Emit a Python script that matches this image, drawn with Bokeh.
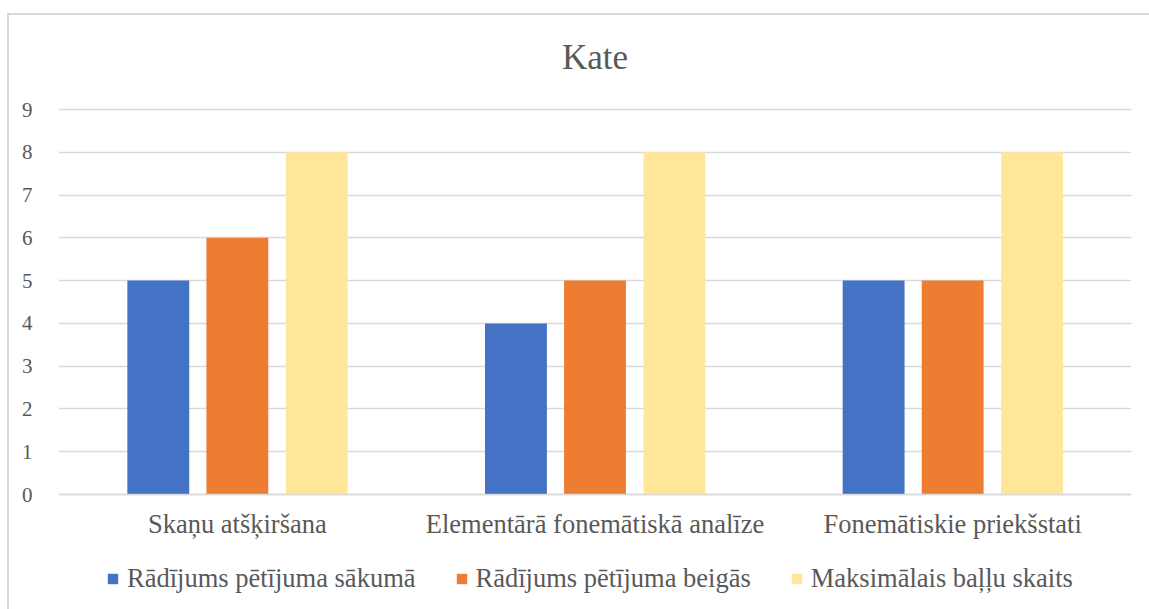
from bokeh.plotting import figure
from bokeh.models import ColumnDataSource, Legend, LegendItem, FactorRange, Range1d, Label
from bokeh.transform import dodge
from bokeh.embed import file_html
from bokeh.resources import INLINE

categories = ["Skaņu atšķiršana", "Elementārā fonemātiskā analīze", "Fonemātiskie priekšstati"]
series_names = ["Rādījums pētījuma sākumā", "Rādījums pētījuma beigās", "Maksimālais baļļu skaits"]
start_vals = [5, 4, 5]
end_vals = [6, 5, 5]
max_vals = [8, 8, 8]
y_ticks = [0, 1, 2, 3, 4, 5, 6, 7, 8, 9]
title_text = "Kate"

colors = ["#4472C4", "#ED7D31", "#FFE699"]
FONT = "Liberation Serif"
GRAY = "#595959"
GRID = "#D9D9D9"

src = ColumnDataSource(dict(cat=categories, s=start_vals, e=end_vals, m=max_vals))

# frame spans full height; value axis 0..9 occupies the middle part
p = figure(x_range=FactorRange(*categories), y_range=Range1d(-2.688, 11.548), width=1149, height=609,
           output_backend="svg", toolbar_location=None,
           min_border_left=58, min_border_right=18, min_border_top=0, min_border_bottom=0)
p.title.visible = False
p.outline_line_color = None
p.background_fill_alpha = 0
p.border_fill_alpha = 0
p.styles = {
    "background": "linear-gradient(#D9D9D9, #D9D9D9) 7px 13px / 2px 100% no-repeat, "
                  "linear-gradient(#D9D9D9, #D9D9D9) 7px 13px / 100% 2px no-repeat, white"
}

renderers = []
for key, off, col in zip(["s", "e", "m"], [-0.221, 0.0, 0.222], colors):
    r = p.vbar(x=dodge("cat", off, range=p.x_range), top=key, width=0.173, source=src,
               fill_color=col, line_color=None)
    renderers.append(r)

p.xgrid.grid_line_color = None
p.ygrid.grid_line_color = GRID
p.ygrid.grid_line_width = 1.3
p.yaxis.ticker = y_ticks
p.yaxis.axis_line_color = None
p.yaxis.major_tick_line_color = None
p.yaxis.minor_tick_line_color = None
p.yaxis.major_label_text_font = FONT
p.yaxis.major_label_text_font_size = "21px"
p.yaxis.major_label_text_color = GRAY
p.yaxis.major_label_standoff = 20

p.xaxis.fixed_location = 0
p.xaxis.axis_line_color = GRID
p.xaxis.axis_line_width = 1.3
p.xaxis.major_tick_line_color = None
p.xaxis.minor_tick_line_color = None
p.xaxis.major_label_text_font = FONT
p.xaxis.major_label_text_font_size = "26.5px"
p.xaxis.major_label_text_color = GRAY
p.xaxis.major_label_standoff = 8

p.add_layout(Label(x=1.5, y=10.216, text=title_text, text_align="center", text_baseline="middle",
                   text_font=FONT, text_font_size="35px", text_color=GRAY))

legend = Legend(items=[LegendItem(label=n, renderers=[r]) for n, r in zip(series_names, renderers)],
                orientation="horizontal", location=(48, 15), padding=0, margin=0, spacing=39,
                label_standoff=8, glyph_width=13, glyph_height=13,
                label_text_font=FONT, label_text_font_size="26.5px", label_text_color=GRAY,
                border_line_color=None, background_fill_alpha=0)
p.add_layout(legend, "center")

open("out.html", "w").write(file_html(p, INLINE))
